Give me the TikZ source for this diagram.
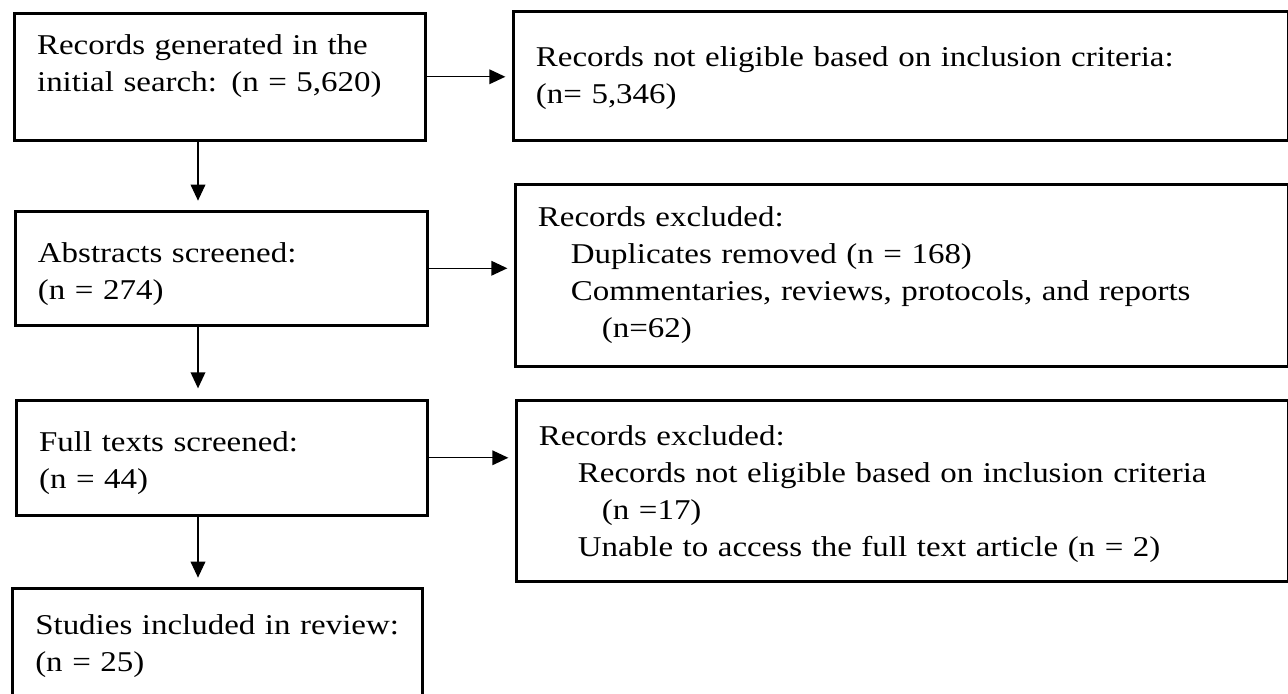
\documentclass[tikz,border=0pt]{standalone}
\usepackage{fontspec}
\setmainfont{Liberation Serif}[FakeStretch=1.15]
\usepackage{tikz}
\usetikzlibrary{arrows.meta}

\tikzset{
  stagebox/.style={draw, line width=1.9pt, rectangle, anchor=north west, inner xsep=17pt, inner ysep=0pt, align=left, font=\fontsize{21.5pt}{27.75pt}\selectfont},
  flowarrow/.style={line width=1pt, -{Triangle[length=12pt,width=11pt]}}
}

\begin{document}
\begin{tikzpicture}[x=0.75pt,y=0.75pt,yscale=-1,xscale=1]
%set diagram left start at 0, and has height of 693
\useasboundingbox (0,0) rectangle (1288,693);

%Left column
\node [stagebox, minimum width=308.25pt, text width=274pt, text height=30.75pt, text depth=64.5pt] (search) at (13,12) {Records generated in the\\initial search: (n = 5,620)};
\node [stagebox, minimum width=309pt, text width=275pt, text height=38.25pt, text depth=47.25pt] (abstracts) at (14,210) {Abstracts screened:\\(n = 274)};
\node [stagebox, minimum width=308.25pt, text width=274pt, text height=38.25pt, text depth=48pt] (fulltexts) at (15,399) {Full texts screened:\\(n = 44)};
\node [stagebox, minimum width=307.5pt, text width=273pt, text height=34.5pt, text depth=47.25pt] (included) at (11,587) {Studies included in review:\\(n = 25)};

%Right column
\node [stagebox, minimum width=581pt, text width=547pt, text height=41.25pt, text depth=55.5pt] (noteligible) at (512,10) {Records not eligible based on inclusion criteria:\\(n= 5,346)};
\node [stagebox, minimum width=580pt, text width=546pt, text height=31.5pt, text depth=105pt] (exclabs) at (514,183) {Records excluded:\\\hspace*{24.75pt}Duplicates removed (n = 168)\\\hspace*{24.75pt}Commentaries, reviews, protocols, and reports\\\hspace*{48pt}(n=62)};
\node [stagebox, minimum width=579pt, text width=545pt, text height=33.75pt, text depth=102pt] (exclfull) at (515,399) {Records excluded:\\\hspace*{29.25pt}Records not eligible based on inclusion criteria\\\hspace*{47.25pt}(n =17)\\\hspace*{29.25pt}Unable to access the full text article (n = 2)};

%Straight Lines
\coordinate (spine) at (198,0);
\draw [flowarrow, shorten >=7pt] (search.south -| spine) -- (abstracts.north -| spine);
\draw [flowarrow, shorten >=8pt] (abstracts.south -| spine) -- (fulltexts.north -| spine);
\draw [flowarrow, shorten >=7pt] (fulltexts.south -| spine) -- (included.north -| spine);
\draw [flowarrow, shorten >=5pt] (search.east) -- (noteligible.west |- search.east);
\draw [flowarrow, shorten >=5pt] (abstracts.east) -- (exclabs.west |- abstracts.east);
\draw [flowarrow, shorten >=5pt] (fulltexts.east) -- (exclfull.west |- fulltexts.east);

\end{tikzpicture}
\end{document}
